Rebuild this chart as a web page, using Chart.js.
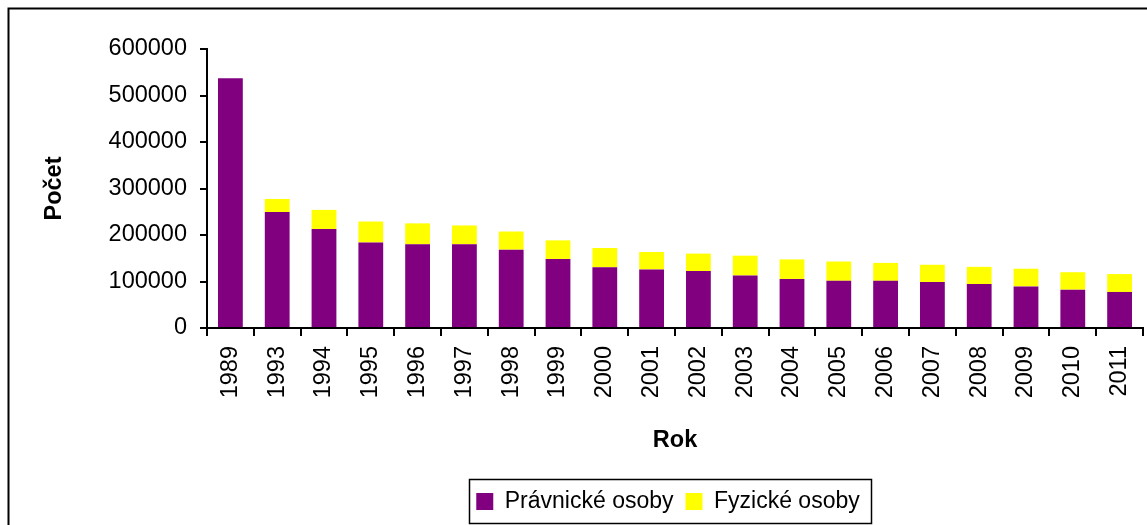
<!DOCTYPE html>
<html><head><meta charset="utf-8">
<script src="https://cdn.jsdelivr.net/npm/chart.js@4.4.1/dist/chart.umd.min.js"></script>
<style>html,body{margin:0;padding:0;background:#fff;}canvas{display:block;}</style>
</head><body>
<canvas id="c" width="1147" height="525"></canvas>
<script>
const years = ['1989','1993','1994','1995','1996','1997','1998','1999','2000','2001','2002','2003','2004','2005','2006','2007','2008','2009','2010','2011'];
const pravnickeOsoby = [537000,249500,213000,184000,180000,180000,168500,148500,130500,126000,122500,113000,105500,101500,101500,99000,94500,89500,82500,77500];
const fyzickeOsoby   = [0,28000,41000,45000,45000,40500,39000,40000,41500,37500,37500,42500,42000,41500,38500,37000,37000,38000,37500,38500];
const yTickValues = [0,100000,200000,300000,400000,500000,600000];
const seriesNames = ['Právnické osoby','Fyzické osoby'];
const xTitle = 'Rok';
const yTitle = 'Počet';

Chart.defaults.font.family = "'Liberation Sans', Arial, sans-serif";
Chart.defaults.color = '#000';

const framePlugin = {
  id: 'frame',
  beforeDraw(chart) {
    const ctx = chart.ctx;
    ctx.save();
    ctx.fillStyle = '#fff';
    ctx.fillRect(0, 0, chart.width, chart.height);
    ctx.strokeStyle = '#000';
    ctx.lineWidth = 2;
    ctx.strokeRect(8.5, 8.5, 1400, 800);
    ctx.restore();
  }
};

const legendPlugin = {
  id: 'legendPos',
  afterUpdate(chart) {
    const lg = chart.legend;
    if (!lg || !lg.legendHitBoxes) return;
    const area = chart.chartArea;
    const delta = ((area.left + area.right) - (lg.left + lg.right)) / 2 - 7;
    lg.left += delta; lg.right += delta;
    lg.legendHitBoxes.forEach(h => { h.left += delta; });
  },
  afterDraw(chart) {
    const lg = chart.legend;
    if (!lg || !lg.legendHitBoxes || !lg.legendHitBoxes.length) return;
    const hb = lg.legendHitBoxes;
    const last = hb[hb.length - 1];
    const l = hb[0].left - 7, r = last.left + last.width + 12;
    const t = hb[0].top - 11, b = hb[0].top + hb[0].height + 10;
    const ctx = chart.ctx;
    ctx.save();
    ctx.strokeStyle = '#000';
    ctx.lineWidth = 1.5;
    ctx.strokeRect(Math.round(l) + 0.5, Math.round(t) + 0.5, Math.round(r - l), Math.round(b - t));
    ctx.restore();
  }
};

new Chart(document.getElementById('c'), {
  type: 'bar',
  data: {
    labels: years,
    datasets: [
      { label: seriesNames[0], data: pravnickeOsoby, backgroundColor: '#800080', borderWidth: 0, categoryPercentage: 1, barPercentage: 0.53 },
      { label: seriesNames[1], data: fyzickeOsoby, backgroundColor: '#FFFF00', borderWidth: 0, categoryPercentage: 1, barPercentage: 0.53 }
    ]
  },
  options: {
    responsive: false,
    animation: false,
    devicePixelRatio: 1,
    layout: { padding: { top: 49, left: 0, right: 4, bottom: 2 } },
    plugins: {
      tooltip: { enabled: false },
      legend: {
        position: 'bottom',
        labels: { boxWidth: 17, boxHeight: 17, padding: 12, font: { size: 23 }, color: '#000' }
      }
    },
    scales: {
      x: {
        stacked: true,
        offset: true,
        afterFit(scale) { scale.height = 150; scale.paddingRight = 0; scale.paddingLeft = 0; },
        grid: { display: true, drawOnChartArea: false, offset: true, tickLength: 8, color: '#000', lineWidth: 2 },
        border: { display: true, color: '#000', width: 2 },
        ticks: { minRotation: 90, maxRotation: 90, autoSkip: false, padding: 10, font: { size: 23.5 }, color: '#000' },
        title: { display: true, text: xTitle, font: { size: 23.5, weight: 'bold' }, color: '#000', padding: { top: 0, bottom: 23 } }
      },
      y: {
        stacked: true,
        min: 0, max: 600000,
        afterFit(scale) { scale.width = 207; },
        afterBuildTicks(scale) { scale.ticks = yTickValues.map(v => ({ value: v })); },
        grid: { display: true, drawOnChartArea: false, tickLength: 7, color: '#000', lineWidth: 2 },
        border: { display: true, color: '#000', width: 2 },
        ticks: { padding: 13, font: { size: 23.5 }, color: '#000', callback: v => String(v) },
        title: { display: true, text: yTitle, font: { size: 23.5, weight: 'bold' }, color: '#000', padding: { top: 40, bottom: 0 } }
      }
    }
  },
  plugins: [framePlugin, legendPlugin]
});
</script>
</body></html>
